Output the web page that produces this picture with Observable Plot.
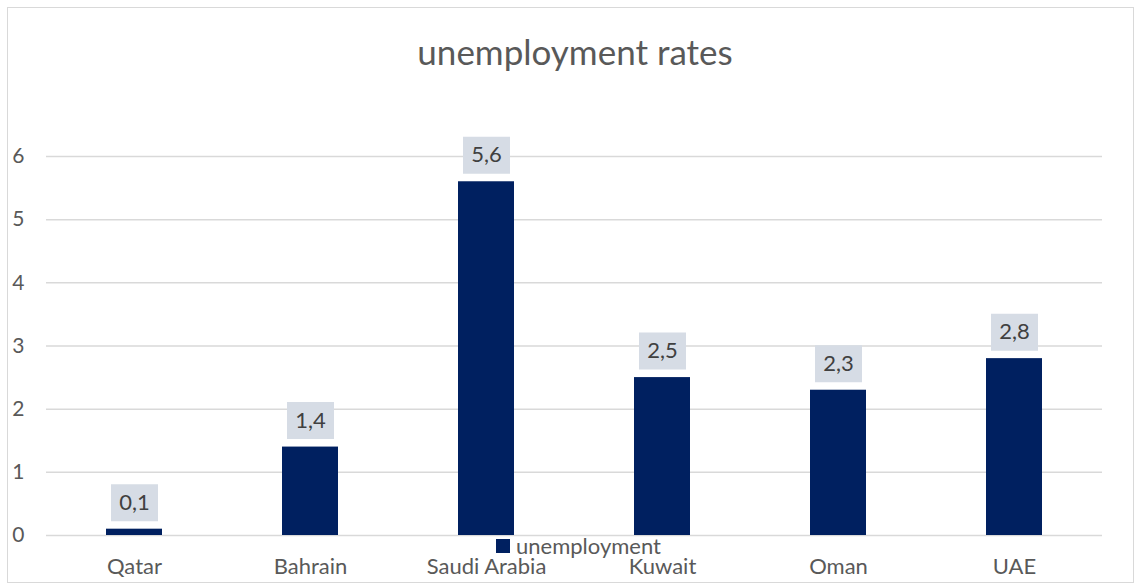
<!DOCTYPE html>
<html>
<head>
<meta charset="utf-8">
<script src="https://cdn.jsdelivr.net/npm/d3@7"></script>
<script src="https://cdn.jsdelivr.net/npm/@observablehq/plot@0.6"></script>
<style>
  html, body { margin: 0; padding: 0; background: #fff; }
  #wrap { position: relative; width: 1135px; height: 587px; font-family: Lato, "Open Sans", sans-serif; }
  #frame { position: absolute; left: 7px; top: 7px; width: 1127px; height: 576px; border: 1.5px solid #d9d9d9; box-sizing: border-box; }
  #title { position: absolute; left: 0; width: 1150px; top: 30px; text-align: center; font-size: 35px; color: #595959; }
  #legend { position: absolute; left: 496px; top: 532px; font-size: 22px; color: #595959; display: flex; align-items: center; }
  #legend .sw { width: 14px; height: 14px; background: #002060; margin-right: 6px; }
  #chart { position: absolute; left: 0; top: 0; }
</style>
</head>
<body>
<div id="wrap">
  <div id="frame"></div>
  <div id="chart"></div>
  <div id="title">unemployment rates</div>
  <div id="legend"><span class="sw"></span><span>unemployment</span></div>
</div>
<script>
const countries = ["Qatar", "Bahrain", "Saudi Arabia", "Kuwait", "Oman", "UAE"];
const unemployment = [0.1, 1.4, 5.6, 2.5, 2.3, 2.8];
const yTicks = [0, 1, 2, 3, 4, 5, 6];

const data = countries.map((c, i) => ({country: c, value: unemployment[i]}));
const fmt = v => String(v).replace(".", ",");

const labelBox = {
  draw(context) { context.rect(-23.5, -18.5, 47, 37); }
};

const plot = Plot.plot({
  width: 1135,
  height: 587,
  marginLeft: 46,
  marginRight: 33,
  marginTop: 156,
  marginBottom: 52,
  style: {fontFamily: "Lato, 'Open Sans', sans-serif", fontSize: "21px", color: "#595959", background: "transparent"},
  x: {domain: countries, paddingInner: 0.682, paddingOuter: 0.341, label: null},
  y: {domain: [0, 6], label: null},
  marks: [
    Plot.gridY(yTicks, {stroke: "#d9d9d9", strokeOpacity: 1, strokeWidth: 1.5}),
    Plot.axisY({ticks: yTicks, tickFormat: d => String(d), tickSize: 0, tickPadding: 22, label: null, fontSize: 21, fill: "#595959"}),
    Plot.axisX({tickSize: 0, tickPadding: 23, label: null, fontSize: 22, fill: "#595959"}),
    Plot.barY(data, {x: "country", y: "value", fill: "#002060"}),
    Plot.dot(data, {x: "country", y: "value", symbol: labelBox, fill: "#d6dce5", stroke: "none", dy: -26.5}),
    Plot.text(data, {x: "country", y: "value", text: d => fmt(d.value), dy: -26.5, fontSize: 22, fill: "#404040"})
  ]
});
document.getElementById("chart").appendChild(plot);
</script>
</body>
</html>
